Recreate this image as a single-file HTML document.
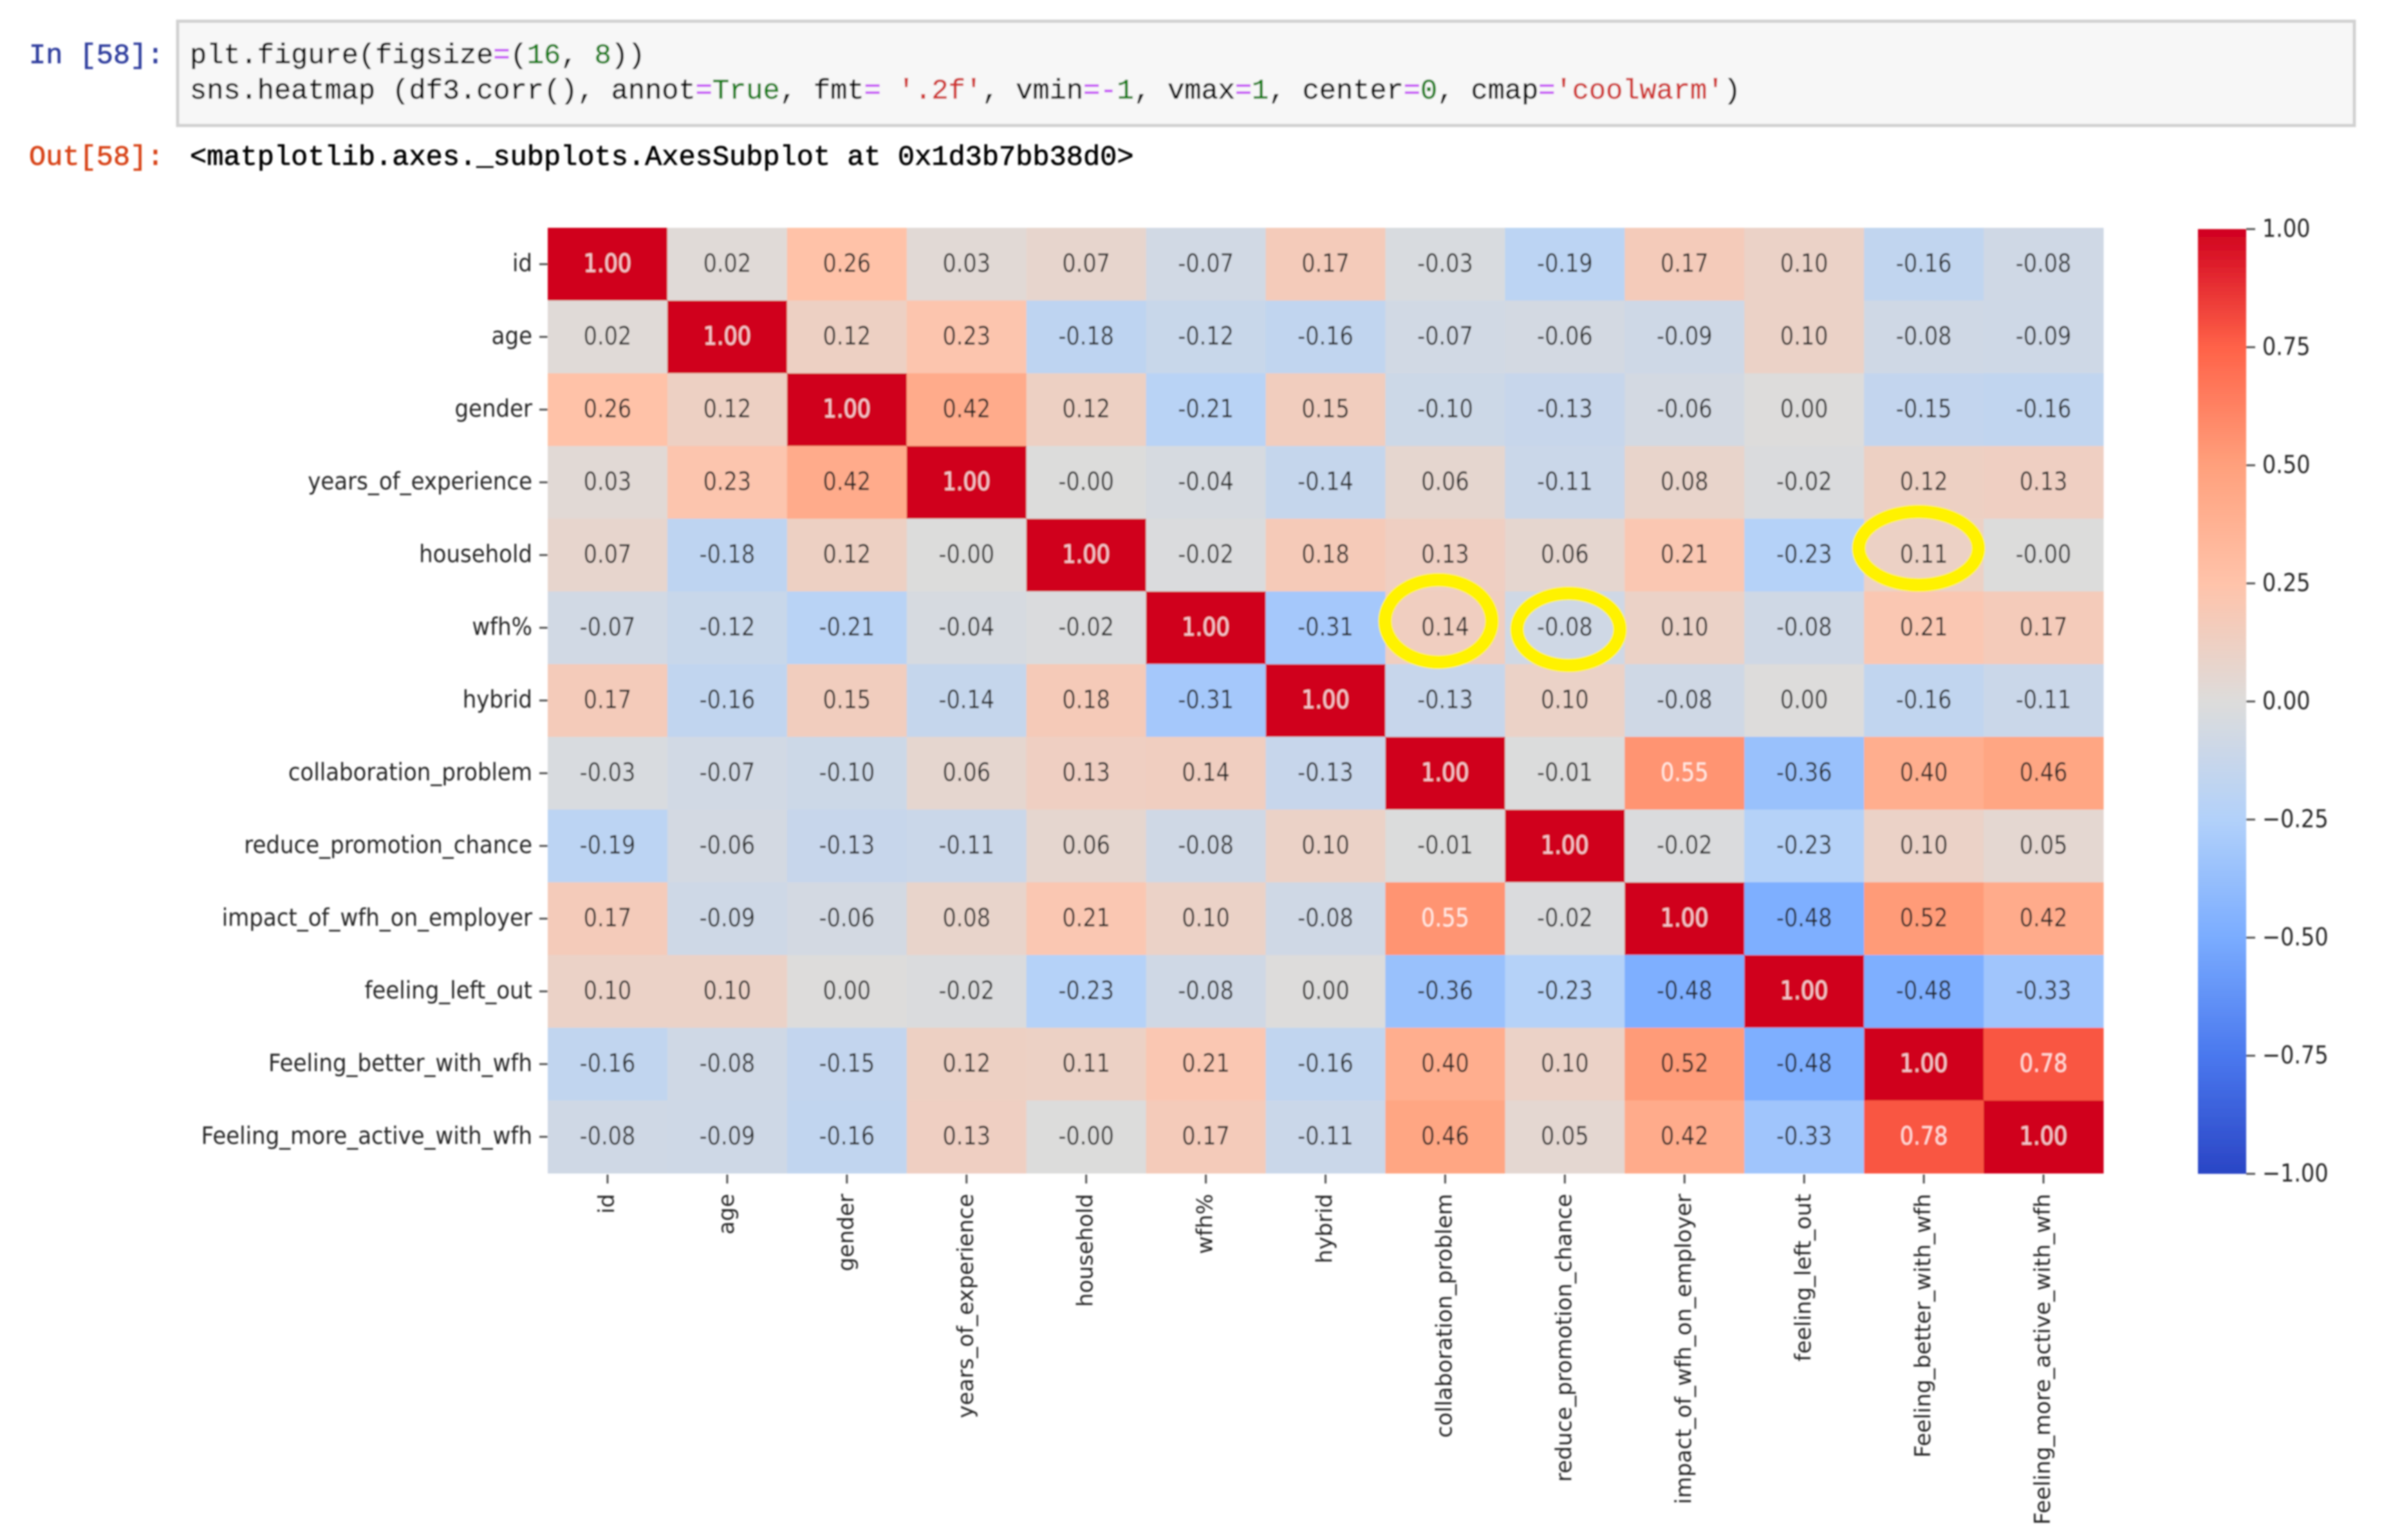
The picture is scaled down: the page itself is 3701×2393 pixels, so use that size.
<!DOCTYPE html>
<html lang="en">
<head>
<meta charset="utf-8">
<title>Correlation heatmap notebook cell</title>
<style>
html,body{margin:0;padding:0;background:#fff;width:3701px;height:2393px;overflow:hidden}
svg{display:block}
.code{font-family:"Liberation Mono",monospace;font-size:43.65px;fill:#000;stroke:#000;stroke-width:.7px}
.op{fill:#c74df5;stroke:#c74df5}
.num{fill:#008000;stroke:#008000}
.kw{fill:#008000;stroke:#008000;font-weight:normal}
.str{fill:#d0312d;stroke:#d0312d}
.mpl{font-family:"DejaVu Sans",sans-serif;font-size:33.5px;fill:#262626}
.axis-label{font-size:34px}
</style>
</head>
<body>
<svg id="page" xmlns="http://www.w3.org/2000/svg" width="3701" height="2393" viewBox="0 0 3701 2393">
  <defs>
    <filter id="soft" x="0" y="0" width="3701" height="2393" filterUnits="userSpaceOnUse"><feGaussianBlur stdDeviation="1.3"/></filter>
    <linearGradient id="cbar-gradient" x1="0" y1="1" x2="0" y2="0"></linearGradient>
  </defs>
  <rect x="0" y="0" width="3701" height="2393" fill="#ffffff"/>
  <g filter="url(#soft)">
    <g>
      <rect x="276" y="33" width="3382" height="162" fill="#f7f7f7" stroke="#d2d2d2" stroke-width="5"/>
      <text class="code" x="45" y="98" style="fill:#303f9f;stroke:#303f9f">In [58]:</text>
      <text class="code" x="295" y="98">plt.figure(figsize<tspan class="op">=</tspan>(<tspan class="num">16</tspan>, <tspan class="num">8</tspan>))</text>
      <text class="code" x="295" y="153">sns.heatmap (df3.corr(), annot<tspan class="op">=</tspan><tspan class="kw">True</tspan>, fmt<tspan class="op">=</tspan> <tspan class="str">'.2f'</tspan>, vmin<tspan class="op">=-</tspan><tspan class="num">1</tspan>, vmax<tspan class="op">=</tspan><tspan class="num">1</tspan>, center<tspan class="op">=</tspan><tspan class="num">0</tspan>, cmap<tspan class="op">=</tspan><tspan class="str">'coolwarm'</tspan>)</text>
    </g>
    <text class="code" x="45" y="256" style="fill:#d84315;stroke:#d84315">Out[58]:</text>
    <text class="code" x="295" y="256">&lt;matplotlib.axes._subplots.AxesSubplot at 0x1d3b7bb38d0&gt;</text>
    <g id="heatmap"></g>
    <g id="xaxis"></g>
    <g id="yaxis"></g>
    <g id="colorbar"></g>
    <g fill="none" stroke="#fff200" stroke-width="21">
      <ellipse cx="2235" cy="965" rx="83" ry="64"/>
      <ellipse cx="2437" cy="978" rx="80" ry="56"/>
      <ellipse cx="2981" cy="852" rx="93" ry="57"/>
    </g>
  </g>
</svg>
<script>
const categories = ["id","age","gender","years_of_experience","household","wfh%","hybrid","collaboration_problem","reduce_promotion_chance","impact_of_wfh_on_employer","feeling_left_out","Feeling_better_with_wfh","Feeling_more_active_with_wfh"];
const rowId = [1.00,0.02,0.26,0.03,0.07,-0.07,0.17,-0.03,-0.19,0.17,0.10,-0.16,-0.08];
const rowAge = [0.02,1.00,0.12,0.23,-0.18,-0.12,-0.16,-0.07,-0.06,-0.09,0.10,-0.08,-0.09];
const rowGender = [0.26,0.12,1.00,0.42,0.12,-0.21,0.15,-0.10,-0.13,-0.06,0.00,-0.15,-0.16];
const rowExperience = [0.03,0.23,0.42,1.00,-0.004,-0.04,-0.14,0.06,-0.11,0.08,-0.02,0.12,0.13];
const rowHousehold = [0.07,-0.18,0.12,-0.004,1.00,-0.02,0.18,0.13,0.06,0.21,-0.23,0.11,-0.004];
const rowWfh = [-0.07,-0.12,-0.21,-0.04,-0.02,1.00,-0.31,0.14,-0.08,0.10,-0.08,0.21,0.17];
const rowHybrid = [0.17,-0.16,0.15,-0.14,0.18,-0.31,1.00,-0.13,0.10,-0.08,0.00,-0.16,-0.11];
const rowCollaboration = [-0.03,-0.07,-0.10,0.06,0.13,0.14,-0.13,1.00,-0.01,0.55,-0.36,0.40,0.46];
const rowPromotion = [-0.19,-0.06,-0.13,-0.11,0.06,-0.08,0.10,-0.01,1.00,-0.02,-0.23,0.10,0.05];
const rowImpact = [0.17,-0.09,-0.06,0.08,0.21,0.10,-0.08,0.55,-0.02,1.00,-0.48,0.52,0.42];
const rowLeftOut = [0.10,0.10,0.00,-0.02,-0.23,-0.08,0.00,-0.36,-0.23,-0.48,1.00,-0.48,-0.33];
const rowBetter = [-0.16,-0.08,-0.15,0.12,0.11,0.21,-0.16,0.40,0.10,0.52,-0.48,1.00,0.78];
const rowActive = [-0.08,-0.09,-0.16,0.13,-0.004,0.17,-0.11,0.46,0.05,0.42,-0.33,0.78,1.00];
const matrix = [rowId,rowAge,rowGender,rowExperience,rowHousehold,rowWfh,rowHybrid,rowCollaboration,rowPromotion,rowImpact,rowLeftOut,rowBetter,rowActive];
const colorbarTicks = [1,0.75,0.5,0.25,0,-0.25,-0.5,-0.75,-1];
const colorbarLabels = ["1.00","0.75","0.50","0.25","0.00","\u22120.25","\u22120.50","\u22120.75","\u22121.00"];

const NS = "http://www.w3.org/2000/svg";
const plot = {left:851, right:3268, top:354, bottom:1823};
const bar = {left:3415, right:3490, top:356, bottom:1824};
const rampValues = [-1,-0.75,-0.5,-0.25,0,0.25,0.5,0.75,1];
const rampColors = [[42,69,197],[74,120,238],[122,172,255],[178,209,250],[221,220,219],[255,195,170],[255,160,124],[255,98,72],[208,0,31]];

function xScale(i){ return plot.left + i*(plot.right-plot.left)/categories.length; }
function yScale(i){ return plot.top + i*(plot.bottom-plot.top)/categories.length; }
function barY(v){ return bar.top + (1-v)/2*(bar.bottom-bar.top); }
function colorFor(v){
  const t = Math.max(-1,Math.min(1,v));
  let k = 0;
  while(k < rampValues.length-2 && t > rampValues[k+1]) k++;
  const f = (t-rampValues[k])/(rampValues[k+1]-rampValues[k]);
  const c = rampColors[k].map((a,n)=>Math.round(a+(rampColors[k+1][n]-a)*f));
  return "rgb("+c.join(",")+")";
}
function make(tag,attrs,parent,text){
  const el = document.createElementNS(NS,tag);
  Object.keys(attrs).forEach(k=>el.setAttribute(k,attrs[k]));
  if(text!==undefined) el.textContent = text;
  parent.appendChild(el);
  return el;
}

const heatmapGroup = document.getElementById("heatmap");
matrix.forEach((row,r)=>{
  row.forEach((value,c)=>{
    const cell = make("rect",{x:xScale(c),y:yScale(r),width:xScale(c+1)-xScale(c)+0.5,height:yScale(r+1)-yScale(r)+0.5,fill:colorFor(value)},heatmapGroup);
    
    
  });
});
matrix.forEach((row,r)=>{
  row.forEach((value,c)=>{
    const tx = (xScale(c)+xScale(c+1))/2;
    const ty = (yScale(r)+yScale(r+1))/2+12;
    const label = make("text",{transform:"translate("+tx+","+ty+") scale(1,1.18)","text-anchor":"middle",class:"mpl"},heatmapGroup,value.toFixed(2));
    
    
    if(value > 0.53){ label.style.fill = "#ffffff"; label.style.fillOpacity = "0.8"; }
  });
});

const xAxisGroup = document.getElementById("xaxis");
categories.forEach((name,i)=>{
  const cx = (xScale(i)+xScale(i+1))/2;
  const tick = make("line",{x1:cx,x2:cx,y1:plot.bottom+2,y2:plot.bottom+16,stroke:"#555",'stroke-width':3},xAxisGroup);
  
  
  const label = make("text",{transform:"translate("+(cx+10)+","+(plot.bottom+32)+") rotate(-90)","text-anchor":"end",class:"mpl axis-label"},xAxisGroup,name);
  
  
});

const yAxisGroup = document.getElementById("yaxis");
categories.forEach((name,i)=>{
  const cy = (yScale(i)+yScale(i+1))/2;
  const tick = make("line",{x1:plot.left-13,x2:plot.left,y1:cy,y2:cy,stroke:"#555",'stroke-width':3},yAxisGroup);
  
  
  const label = make("text",{transform:"translate("+(plot.left-24)+","+(cy+11)+") scale(1,1.1)","text-anchor":"end",class:"mpl axis-label"},yAxisGroup,name);
  
  
});

const gradient = document.getElementById("cbar-gradient");
rampValues.forEach((v,i)=>{
  make("stop",{offset:(v+1)/2,"stop-color":"rgb("+rampColors[i].join(",")+")"},gradient);
});
const colorbarGroup = document.getElementById("colorbar");
const barRect = make("rect",{x:bar.left,y:barY(1),width:bar.right-bar.left,height:barY(-1)-barY(1),fill:"url(#cbar-gradient)"},colorbarGroup);


colorbarTicks.forEach((v,i)=>{
  const tick = make("line",{x1:bar.right,x2:bar.right+14,y1:barY(v),y2:barY(v),stroke:"#555",'stroke-width':3},colorbarGroup);
  
  
  const label = make("text",{transform:"translate("+(bar.right+25)+","+(barY(v)+12)+") scale(1,1.15)",class:"mpl"},colorbarGroup,colorbarLabels[i]);
  
  
});
</script>
</body>
</html>
